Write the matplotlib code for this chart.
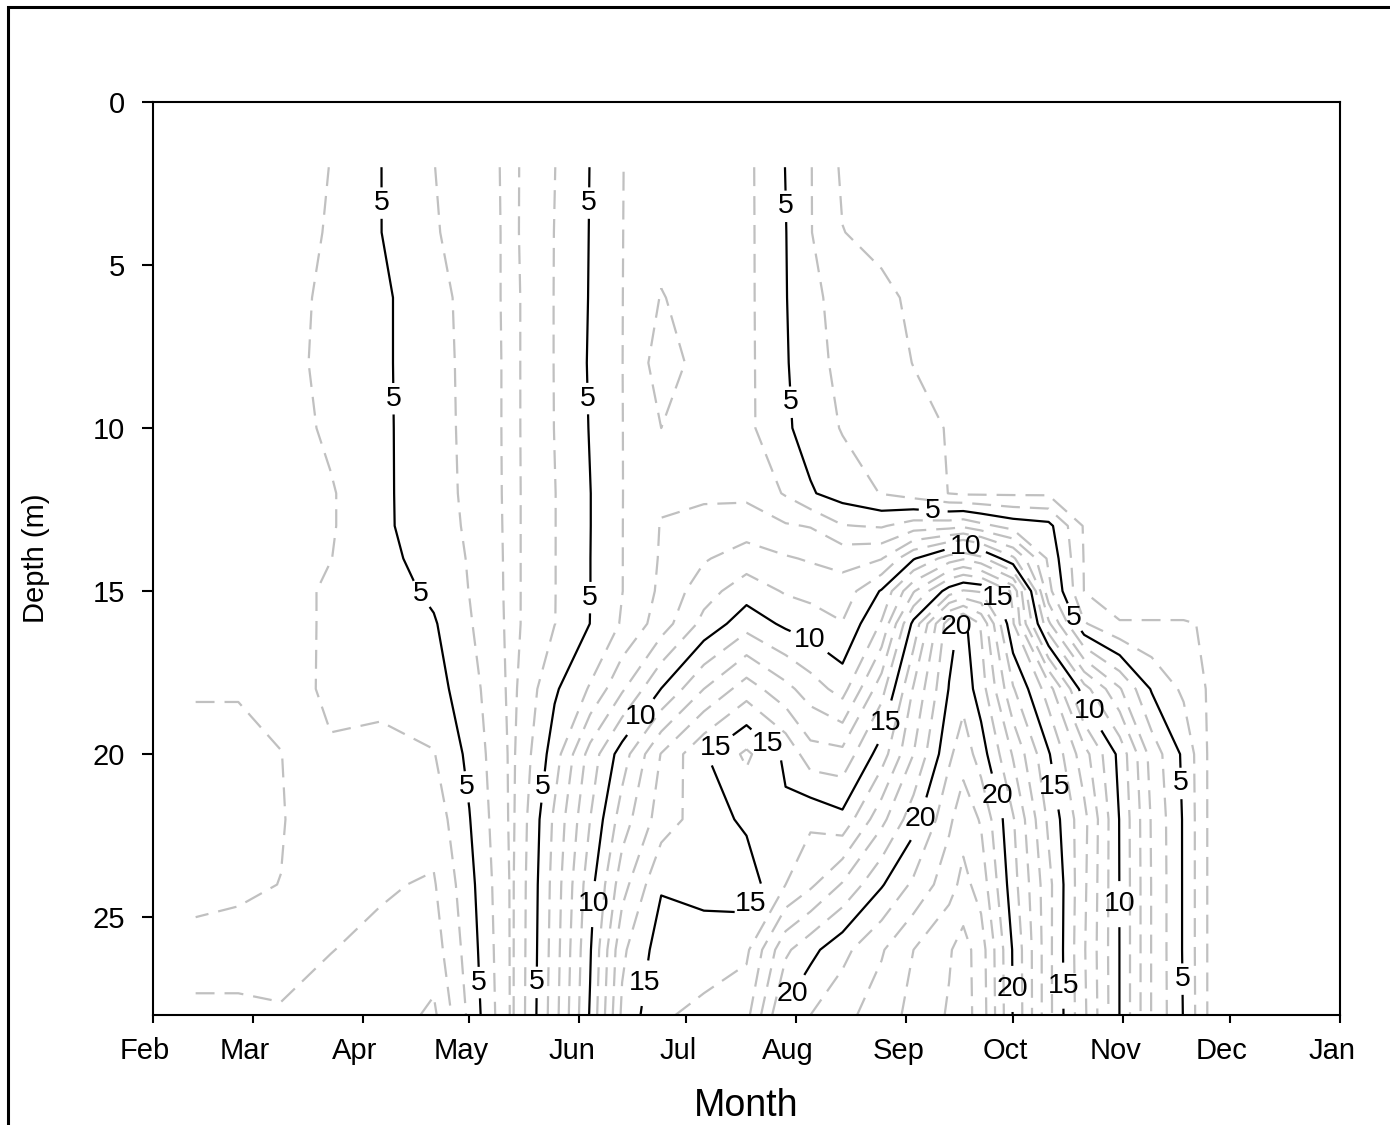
import numpy as np
import matplotlib.pyplot as plt
from matplotlib.patches import Rectangle
from matplotlib.transforms import ScaledTranslation

plt.rcParams['font.family'] = ['Liberation Sans', 'DejaVu Sans']

# sampling days (day of year) and sampled depths (m)
days = [44, 56, 68, 82, 96, 111, 121, 133, 145, 155, 164, 175, 187, 199, 210,
        217, 226, 237, 246, 256, 260, 265, 274, 284, 294, 304, 313, 322, 329]
depths = [2, 4, 6, 8, 10, 12, 13, 14, 15, 16, 18, 20, 22, 24, 26, 28]

# one profile per sampling day, surface to bottom
profiles = [
    [6.5, 6.5, 6.6, 6.6, 6.6, 6.6, 6.6, 6.6, 6.6, 6.7, 6.9, 7.4, 7.4, 7.2, 6.8, 7.1],
    [6.5, 6.5, 6.6, 6.6, 6.6, 6.6, 6.6, 6.6, 6.6, 6.7, 6.9, 7.4, 7.4, 7.1, 6.8, 7.1],
    [6.5, 6.5, 6.5, 6.5, 6.5, 6.5, 6.5, 6.5, 6.5, 6.5, 6.7, 7.02, 7.05, 6.99, 6.8, 7.05],
    [5.98, 5.9, 5.7, 5.6, 5.8, 6.1, 6.1, 6.02, 5.8, 5.8, 5.7, 6.15, 6.5, 6.6, 6.98, 7.3],
    [5.02, 5.02, 5.2, 5.2, 5.2, 5.2, 5.2, 5.3, 5.5, 5.6, 5.8, 6.2, 6.4, 6.9, 7.2, 7.4],
    [4.02, 4.1, 4.35, 4.35, 4.4, 4.42, 4.45, 4.6, 4.8, 5.1, 5.4, 6.05, 6.6, 7.1, 7.5, 8.2],
    [3.5, 3.55, 3.69, 3.76, 3.76, 3.8, 3.86, 3.93, 3.98, 4.1, 4.46, 4.76, 5.05, 5.33, 5.55, 5.78],
    [2.8, 2.8, 2.75, 2.75, 2.75, 2.75, 2.75, 2.75, 2.75, 2.75, 2.75, 2.8, 2.8, 2.85, 2.85, 2.85],
    [3.98, 4.02, 4.03, 4.03, 4.02, 3.97, 3.97, 3.97, 3.97, 3.98, 4.85, 5.5, 6.2, 6.4, 6.5, 6.6],
    [5.02, 5.04, 5.06, 5.1, 5.05, 4.98, 4.98, 4.99, 4.99, 5.01, 6.1, 8.4, 9.0, 9.6, 9.9, 10.1],
    [5.98, 5.98, 5.98, 5.98, 5.98, 5.98, 5.98, 5.98, 5.98, 6.1, 7.85, 10.5, 11.5, 12.6, 13.8, 14.2],
    [6.5, 6.7, 7.05, 7.5, 7.0, 6.85, 7.05, 7.1, 7.2, 7.5, 10.02, 13.05, 13.5, 14.9, 15.5, 15.9],
    [6.6, 6.6, 6.6, 6.6, 6.7, 6.9, 7.2, 7.9, 8.6, 9.3, 12.0, 14.9, 14.5, 14.6, 15.6, 16.2],
    [6.25, 6.25, 6.25, 6.25, 6.25, 6.8, 7.5, 8.5, 9.55, 10.6, 13.5, 16.2, 15.2, 14.4, 15.8, 16.7],
    [4.98, 5.03, 5.05, 5.1, 5.15, 5.9, 7.1, 8.1, 8.9, 9.8, 12.3, 14.8, 15.2, 16.0, 18.8, 20.2],
    [4.05, 4.05, 4.2, 4.3, 4.6, 5.1, 6.95, 7.9, 8.7, 9.5, 11.5, 13.4, 15.8, 16.8, 19.7, 21.0],
    [2.85, 3.02, 3.7, 3.78, 3.93, 4.55, 6.05, 7.7, 8.4, 9.05, 10.6, 13.3, 15.3, 18.1, 20.7, 21.7],
    [2.6, 2.75, 3.2, 3.34, 3.57, 3.96, 5.9, 7.95, 10.1, 11.1, 13.6, 15.5, 17.7, 19.9, 21.9, 22.5],
    [2.6, 2.6, 2.85, 2.98, 3.28, 3.55, 6.5, 9.9, 12.9, 15.3, 17.1, 18.0, 19.6, 21.2, 23.0, 23.3],
    [2.6, 2.6, 2.6, 2.6, 2.95, 2.98, 6.6, 11.5, 15.5, 19.6, 20.05, 20.8, 21.8, 22.6, 23.9, 24.1],
    [2.6, 2.6, 2.6, 2.6, 2.6, 2.85, 6.8, 11.9, 16.1, 20.3, 20.6, 21.6, 22.6, 23.3, 24.4, 24.4],
    [2.6, 2.6, 2.6, 2.6, 2.6, 2.85, 6.3, 11.3, 15.9, 18.9, 19.5, 20.5, 21.9, 22.6, 23.5, 23.6],
    [2.6, 2.6, 2.6, 2.6, 2.6, 2.85, 5.6, 9.2, 13.8, 14.1, 16.1, 17.9, 19.1, 19.4, 19.9, 19.95],
    [2.6, 2.6, 2.6, 2.6, 2.6, 2.85, 5.3, 5.8, 6.3, 8.2, 13.5, 15.1, 15.8, 16.3, 16.3, 16.3],
    [2.6, 2.6, 2.6, 2.6, 2.6, 2.7, 2.9, 2.95, 2.98, 4.1, 9.4, 12.4, 13.3, 13.2, 13.1, 13.2],
    [2.6, 2.6, 2.6, 2.6, 2.6, 2.6, 2.6, 2.6, 2.6, 3.05, 7.1, 9.7, 9.95, 9.97, 9.98, 9.98],
    [2.6, 2.6, 2.6, 2.6, 2.6, 2.6, 2.6, 2.6, 2.6, 3.05, 4.9, 6.6, 6.9, 6.95, 6.95, 6.95],
    [2.6, 2.6, 2.6, 2.6, 2.6, 2.6, 2.6, 2.6, 2.6, 3.05, 3.8, 4.8, 4.9, 4.9, 4.9, 4.95],
    [2.6, 2.6, 2.6, 2.6, 2.6, 2.6, 2.6, 2.6, 2.6, 2.95, 2.9, 2.9, 2.9, 2.9, 2.9, 2.9],
]

major_levels = [5, 10, 15, 20]
minor_levels = [v for v in range(3, 25) if v % 5]

month_starts = [32, 60, 91, 121, 152, 182, 213, 244, 274, 305, 335, 366]
month_names = ['Feb', 'Mar', 'Apr', 'May', 'Jun', 'Jul', 'Aug', 'Sep', 'Oct',
               'Nov', 'Dec', 'Jan']

# where the labels on the solid contours sit (day, depth)
label_spots = [
    (96.4, 3.1), (100.1, 9.1), (108.5, 15.0), (120.4, 21.0), (124.9, 27.0),
    (154.7, 3.1), (153.0, 9.1), (155.0, 15.2), (141.2, 21.0), (140.3, 27.0),
    (209.8, 3.2), (212.6, 9.2), (251.5, 12.6), (289.5, 15.9), (321.0, 20.9),
    (321.5, 26.9),
    (216.9, 16.5), (168.5, 18.8), (260.5, 13.7), (292.8, 18.9), (156.1, 24.6),
    (304.9, 24.6),
    (190.1, 19.8), (205.6, 19.6), (237.1, 19.0), (269.8, 15.2), (285.8, 21.0),
    (200.5, 24.6), (169.0, 27.0), (288.6, 27.1),
    (257.7, 16.1), (247.8, 22.0), (268.9, 21.3), (211.2, 27.3), (274.5, 27.2),
]

fig = plt.figure(figsize=(13.9, 11.25), dpi=100)
ax = fig.add_axes([153 / 1390, 1 - 1015 / 1125, 1187 / 1390, 913 / 1125])

X, Y = np.meshgrid(days, depths)
Z = np.array(profiles).T

minor = ax.contour(X, Y, Z, levels=minor_levels, colors='#c0c0c0',
                   linewidths=1.6)
minor.set_linestyle((0, (8.5, 4.5)))
major = ax.contour(X, Y, Z, levels=major_levels, colors='black',
                   linewidths=1.6)
texts = ax.clabel(major, fmt='%d', fontsize=20.5, manual=label_spots,
                  inline=True, inline_spacing=9)
for t in texts:
    t.set_rotation(0)

ax.set_xlim(32, 366)
ax.set_ylim(28, 0)
ax.set_xticks(month_starts, month_names)
ax.set_yticks([0, 5, 10, 15, 20, 25])
ax.tick_params(axis='x', direction='out', length=6, width=1.5, pad=10,
               labelsize=21)
ax.tick_params(axis='y', direction='out', length=8, width=1.5, pad=12,
               labelsize=21)
for s in ax.spines.values():
    s.set_linewidth(1.5)

shift = ScaledTranslation(-0.08, 0, fig.dpi_scale_trans)
for lab in ax.get_xticklabels():
    lab.set_transform(lab.get_transform() + shift)

ax.set_xlabel('Month', fontsize=27)
ax.xaxis.set_label_coords(0.5, -0.08)
ax.set_ylabel('Depth (m)', fontsize=21)
ax.yaxis.set_label_coords(-0.087, 0.5)

# outer frame, cut off on the right and bottom
fig.patches.append(Rectangle((8 / 1390, -0.1), 2, 1.1 - 7 / 1125,
                             transform=fig.transFigure, fill=False,
                             lw=2.2, ec='black'))

fig.savefig('out.png', dpi=100)
